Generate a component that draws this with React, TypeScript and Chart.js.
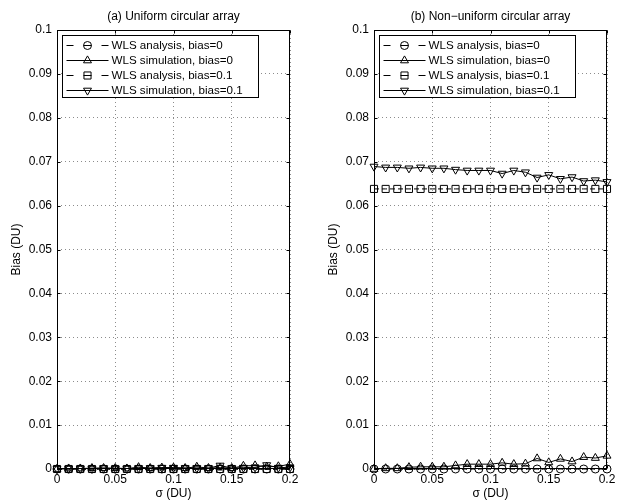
import React, { useEffect, useRef } from "react";
import { Chart, registerables } from "chart.js";

Chart.register(...registerables);

// ---------------- data ----------------
const sigma = [0, 0.01, 0.02, 0.03, 0.04, 0.05, 0.06, 0.07, 0.08, 0.09, 0.1, 0.11, 0.12, 0.13, 0.14, 0.15, 0.16, 0.17, 0.18, 0.19, 0.2];

// (a) Uniform circular array
const uniAnalysis0 = [0, 0, 0, 0, 0, 0, 0, 0, 0, 0, 0, 0, 0, 0, 0, 0, 0, 0, 0, 0, 0];
const uniSim0 = [0, 0.0001, 0.0001, 0.0002, 0.0002, 0.0002, 0.0001, 0.0004, 0.0002, 0.0003, 0.0003, 0.0002, 0.0005, 0.0002, 0.0003, 0.0002, 0.0007, 0.0008, 0.0005, 0.0006, 0.0011];
const uniAnalysis01 = [0, 0, 0, 0, 0, 0, 0, 0, 0, 0, 0, 0, 0, 0, 0, 0, 0, 0, 0, 0, 0];
const uniSim01 = [0, 0.0001, 0.0001, 0.0001, 0.0002, 0.0001, 0.0001, 0.0002, 0.0002, 0.0003, 0.0003, 0.0002, 0.0002, 0.0002, 0.0008, 0.0002, 0.0003, 0.0004, 0.0009, 0.0003, 0.0004];

// (b) Non-uniform circular array
const nonAnalysis0 = [0, 0, 0, 0, 0, 0, 0, 0, 0, 0, 0, 0, 0, 0, 0, 0, 0, 0, 0, 0, 0];
const nonSim0 = [0, 0.00015, 0.00015, 0.0004, 0.0005, 0.0005, 0.0005, 0.0008, 0.0011, 0.0011, 0.0011, 0.0014, 0.0011, 0.0012, 0.0024, 0.0015, 0.0023, 0.0017, 0.0027, 0.0025, 0.003];
const nonAnalysis01 = [0.0638, 0.0638, 0.0638, 0.0638, 0.0638, 0.0638, 0.0638, 0.0638, 0.0638, 0.0638, 0.0638, 0.0638, 0.0638, 0.0638, 0.0638, 0.0638, 0.0638, 0.0638, 0.0638, 0.0638, 0.0638];
const nonSim01 = [0.0689, 0.0687, 0.0687, 0.0685, 0.0687, 0.0685, 0.0685, 0.0682, 0.068, 0.068, 0.068, 0.0673, 0.068, 0.0676, 0.0664, 0.067, 0.0661, 0.0665, 0.0656, 0.0658, 0.0654];

const seriesLabels = ["WLS analysis, bias=0", "WLS simulation, bias=0", "WLS analysis, bias=0.1", "WLS simulation, bias=0.1"];
const xTicks = [0, 0.05, 0.1, 0.15, 0.2];
const yTicks = [0, 0.01, 0.02, 0.03, 0.04, 0.05, 0.06, 0.07, 0.08, 0.09, 0.1];
const panelTitles = ["(a) Uniform circular array", "(b) Non\u2212uniform circular array"];
const xLabel = "\u03c3 (DU)";
const yLabel = "Bias (DU)";

// ---------------- styling ----------------
const FONT_FAMILY = "'Liberation Sans', Arial, Helvetica, sans-serif";
const FONT_SIZE = 12;
const LEGEND_FONT_SIZE = 11.6;
const font = { family: FONT_FAMILY, size: FONT_SIZE };

type Style = { dash: number[]; point: string; radius: number; rotation: number };
const seriesStyles: Style[] = [
  { dash: [5, 3], point: "circle", radius: 4, rotation: 0 },
  { dash: [], point: "triangle", radius: 4.6, rotation: 0 },
  { dash: [5, 3], point: "rect", radius: 5, rotation: 0 },
  { dash: [], point: "triangle", radius: 4.6, rotation: 180 },
];

function drawMarker(ctx: CanvasRenderingContext2D, style: Style, x: number, y: number) {
  const r = style.radius;
  ctx.beginPath();
  if (style.point === "circle") {
    ctx.arc(x, y, r, 0, Math.PI * 2);
  } else if (style.point === "rect") {
    const s = r * Math.SQRT1_2;
    ctx.rect(x - s, y - s, 2 * s, 2 * s);
  } else {
    let a = (style.rotation * Math.PI) / 180;
    ctx.moveTo(x + Math.sin(a) * r, y - Math.cos(a) * r);
    for (let i = 0; i < 2; i++) {
      a += (2 * Math.PI) / 3;
      ctx.lineTo(x + Math.sin(a) * r, y - Math.cos(a) * r);
    }
    ctx.closePath();
  }
  ctx.stroke();
}

const framePlugin = {
  id: "mframe",
  afterDatasetsDraw(chart: any, _args: any, opts: any) {
    const ctx: CanvasRenderingContext2D = chart.ctx;
    const { left, right, top, bottom } = chart.chartArea;
    const xs = chart.scales.x;
    const ys = chart.scales.y;
    ctx.save();
    ctx.setLineDash([]);
    ctx.strokeStyle = "#000";
    ctx.lineWidth = 1;
    const L = Math.round(left) + 0.5;
    const R = Math.round(right) - 0.5;
    const T = Math.round(top) + 0.5;
    const B = Math.round(bottom) - 0.5;
    const tl = 3;
    ctx.beginPath();
    for (const v of xTicks) {
      const px = Math.round(xs.getPixelForValue(v)) + 0.5;
      ctx.moveTo(px, T);
      ctx.lineTo(px, T + tl);
      ctx.moveTo(px, B);
      ctx.lineTo(px, B - tl);
    }
    for (const v of yTicks) {
      const py = Math.round(ys.getPixelForValue(v)) + 0.5;
      ctx.moveTo(L, py);
      ctx.lineTo(L + tl, py);
      ctx.moveTo(R, py);
      ctx.lineTo(R - tl, py);
    }
    ctx.stroke();
    ctx.strokeRect(L, T, R - L, B - T);

    // title
    ctx.fillStyle = "#000";
    ctx.font = `${FONT_SIZE}px ${FONT_FAMILY}`;
    ctx.textAlign = "center";
    ctx.textBaseline = "middle";
    ctx.fillText(opts.title, (left + right) / 2, 17);

    // legend
    const bx = Math.round(left) + 5.5;
    const by = Math.round(top) + 5.5;
    const bw = 196;
    const bh = 62;
    ctx.fillStyle = "#fff";
    ctx.fillRect(bx, by, bw, bh);
    ctx.lineWidth = 1;
    ctx.strokeRect(bx, by, bw, bh);
    ctx.font = `${LEGEND_FONT_SIZE}px ${FONT_FAMILY}`;
    chart.data.datasets.forEach((ds: any, i: number) => {
      const st = seriesStyles[i];
      const cy = Math.round(by + 9 + i * 15.2) + 0.5;
      const x0 = bx + 4;
      const x1 = bx + 46;
      const mx = (x0 + x1) / 2;
      ctx.strokeStyle = "#000";
      ctx.lineWidth = 1;
      ctx.beginPath();
      if (st.dash.length) {
        ctx.moveTo(x0, cy);
        ctx.lineTo(x0 + 7, cy);
        ctx.moveTo(x1 - 7, cy);
        ctx.lineTo(x1, cy);
        ctx.moveTo(mx - 4, cy);
        ctx.lineTo(mx + 4, cy);
      } else {
        ctx.moveTo(x0, cy);
        ctx.lineTo(x1, cy);
      }
      ctx.stroke();
      drawMarker(ctx, st, mx, cy);
      ctx.fillStyle = "#000";
      ctx.textAlign = "left";
      ctx.textBaseline = "middle";
      ctx.fillText(ds.label, bx + 49, cy + 0.5);
    });
    ctx.restore();
  },
};

function makeConfig(title: string, series: number[][], yAxisWidth: number, rightPad: number, yTitlePad: number): any {
  return {
    type: "line",
    data: {
      datasets: series.map((vals, i) => {
        const st = seriesStyles[i];
        return {
          label: seriesLabels[i],
          data: sigma.map((s, k) => ({ x: s, y: vals[k] })),
          borderColor: "#000",
          borderWidth: 1,
          borderDash: st.dash,
          pointStyle: st.point,
          pointRadius: st.radius,
          pointRotation: st.rotation,
          pointBorderColor: "#000",
          pointBackgroundColor: "rgba(0,0,0,0)",
          pointBorderWidth: 1,
          fill: false,
          tension: 0,
          clip: false,
        };
      }),
    },
    options: {
      responsive: false,
      animation: false,
      devicePixelRatio: 1,
      layout: { padding: { top: 30, right: rightPad, left: 0, bottom: 0 } },
      plugins: {
        legend: { display: false },
        tooltip: { enabled: false },
        title: { display: false },
        mframe: { title },
      },
      scales: {
        x: {
          type: "linear",
          min: 0,
          max: 0.2,
          afterBuildTicks: (s: any) => {
            s.ticks = xTicks.map((v) => ({ value: v }));
          },
          afterFit: (s: any) => {
            s.height = 34;
          },
          ticks: { font, color: "#000", padding: 3, maxRotation: 0, autoSkip: false, callback: (v: any) => String(v) },
          grid: { color: "#8c8c8c", drawTicks: false, lineWidth: 1 },
          border: { display: false, dash: [1, 3] },
          title: { display: true, text: xLabel, font, color: "#000", padding: { top: 0, bottom: 2 } },
        },
        y: {
          type: "linear",
          min: 0,
          max: 0.1,
          afterBuildTicks: (s: any) => {
            s.ticks = yTicks.map((v) => ({ value: v }));
          },
          afterFit: (s: any) => {
            s.width = yAxisWidth;
          },
          ticks: { font, color: "#000", padding: 5, autoSkip: false, callback: (v: any) => String(v) },
          grid: { color: "#8c8c8c", drawTicks: false, lineWidth: 1 },
          border: { display: false, dash: [1, 3] },
          title: { display: true, text: yLabel, font, color: "#000", padding: { top: yTitlePad, bottom: 0 } },
        },
      },
    },
    plugins: [framePlugin],
  };
}

function Panel(props: { left: number; config: any }) {
  const ref = useRef<HTMLCanvasElement | null>(null);
  useEffect(() => {
    if (!ref.current) return;
    const chart = new Chart(ref.current, props.config);
    return () => chart.destroy();
  }, []);
  return (
    <div style={{ position: "absolute", left: props.left, top: 0, width: 312, height: 503 }}>
      <canvas ref={ref} width={312} height={503} style={{ display: "block", width: 312, height: 503 }} />
    </div>
  );
}

export default function App() {
  const leftCfg = makeConfig(panelTitles[0], [uniAnalysis0, uniSim0, uniAnalysis01, uniSim01], 57, 22, 9);
  const rightCfg = makeConfig(panelTitles[1], [nonAnalysis0, nonSim0, nonAnalysis01, nonSim01], 62, 17, 14);
  return (
    <div style={{ position: "absolute", left: 0, top: 0, width: 624, height: 503, background: "#fff", overflow: "hidden" }}>
      <Panel left={0} config={leftCfg} />
      <Panel left={312} config={rightCfg} />
    </div>
  );
}
